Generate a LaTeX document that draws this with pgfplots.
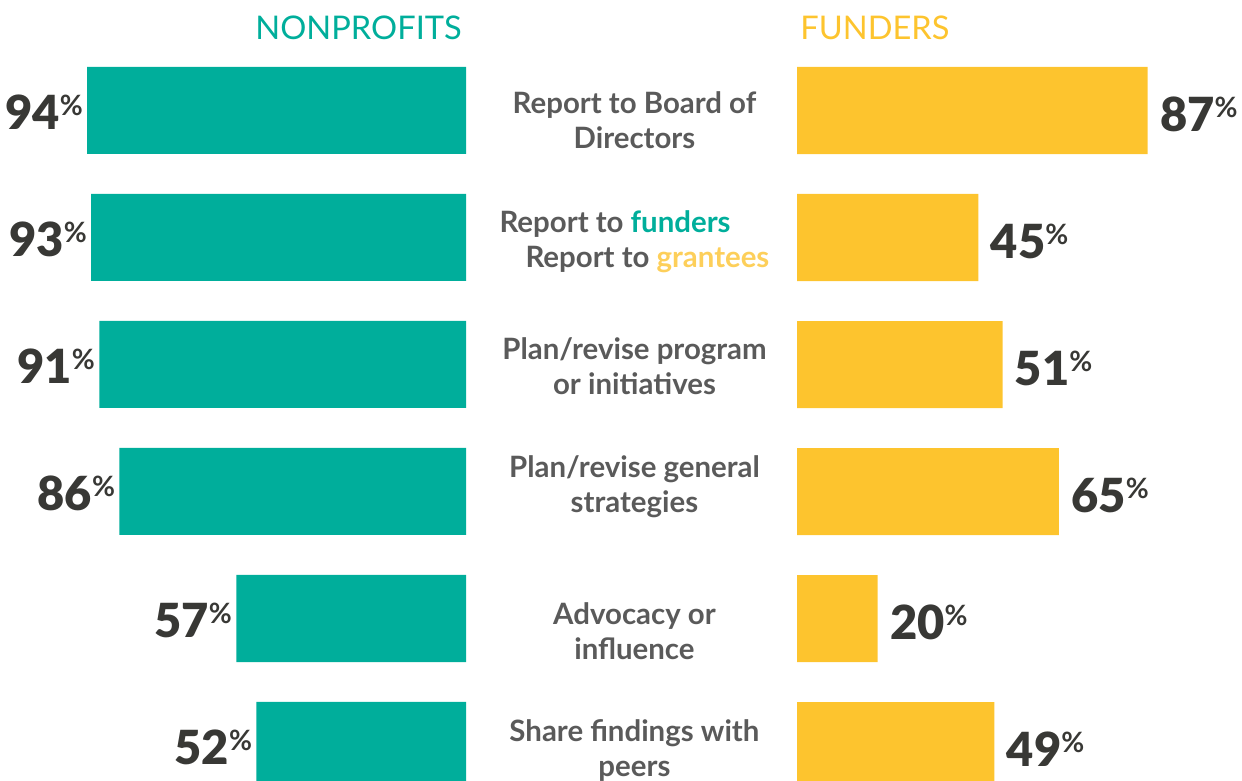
\documentclass[border=0pt]{standalone}
\usepackage{pgfplots}
\pgfplotsset{compat=1.18}
\usepackage{fontspec}
\setmainfont{Lato}
\newfontfamily\heavy{Lato Black}
\definecolor{npteal}{HTML}{00AE9B}
\definecolor{fyellow}{HTML}{FDC42E}
\definecolor{lblgray}{HTML}{5A5A5A}
\definecolor{numdark}{HTML}{383835}
\definecolor{grantyel}{HTML}{FDCF5A}
\newcommand{\pct}[1]{{\heavy\fontsize{23.5}{23.5}\selectfont #1}\raisebox{7pt}{\bfseries\fontsize{14}{14}\selectfont\%}}
\begin{document}
\begin{tikzpicture}
\useasboundingbox (0,0) rectangle (621pt,390.5pt);
\begin{axis}[
  at={(233pt,367pt)}, anchor=north east,
  scale only axis, width=201.5pt, height=381pt,
  xbar, bar width=43.5pt,
  xmin=0, xmax=100, x dir=reverse,
  ymin=-0.5, ymax=5.5, y dir=reverse,
  hide axis, clip=false,
  point meta=x,
  nodes near coords={\pct{\pgfmathprintnumber[assume math mode=true]{\pgfplotspointmeta}}},
  every node near coord/.append style={anchor=east, text=numdark, inner sep=2pt, yshift=-1pt},
]
\addplot[fill=npteal, draw=none] coordinates {(94,0) (93,1) (91,2) (86,3) (57,4) (52,5)};
\end{axis}
\begin{axis}[
  at={(398.5pt,367pt)}, anchor=north west,
  scale only axis, width=201.5pt, height=381pt,
  xbar, bar width=43.5pt,
  xmin=0, xmax=100,
  ymin=-0.5, ymax=5.5, y dir=reverse,
  axis line style={draw=none}, tick style={draw=none}, xtick=\empty,
  ytick={0.079,1.047,2.012,2.961,4.098,5.039},
  yticklabels={{Report to Board of\\Directors},
    {\begin{tabular}{@{}l@{}}Report to \textcolor{npteal}{funders}\\\hspace*{13pt}Report to \textcolor{grantyel}{grantees}\end{tabular}},
    {Plan/revise program\\or initiatives},
    {Plan/revise general\\strategies},
    {Advocacy or\\influence},
    {Share findings with\\peers}},
  yticklabel style={anchor=center, xshift=-77pt, align=center, font=\bfseries\fontsize{14.7}{17.5}\selectfont, text=lblgray},
  clip=false,
  point meta=x,
  nodes near coords={\pct{\pgfmathprintnumber[assume math mode=true]{\pgfplotspointmeta}}},
  every node near coord/.append style={anchor=west, text=numdark, inner sep=2pt, xshift=4pt, yshift=-2pt},
]
\addplot[fill=fyellow, draw=none] coordinates {(87,0) (45,1) (51,2) (65,3) (20,4) (49,5)};
\end{axis}
\node[anchor=east, inner sep=0, text=npteal, font=\fontsize{16.3}{16.3}\selectfont] at (231pt,376.5pt) {NONPROFITS};
\node[anchor=west, inner sep=0, text=fyellow, font=\fontsize{16.3}{16.3}\selectfont] at (400pt,376.5pt) {FUNDERS};
\end{tikzpicture}
\end{document}
